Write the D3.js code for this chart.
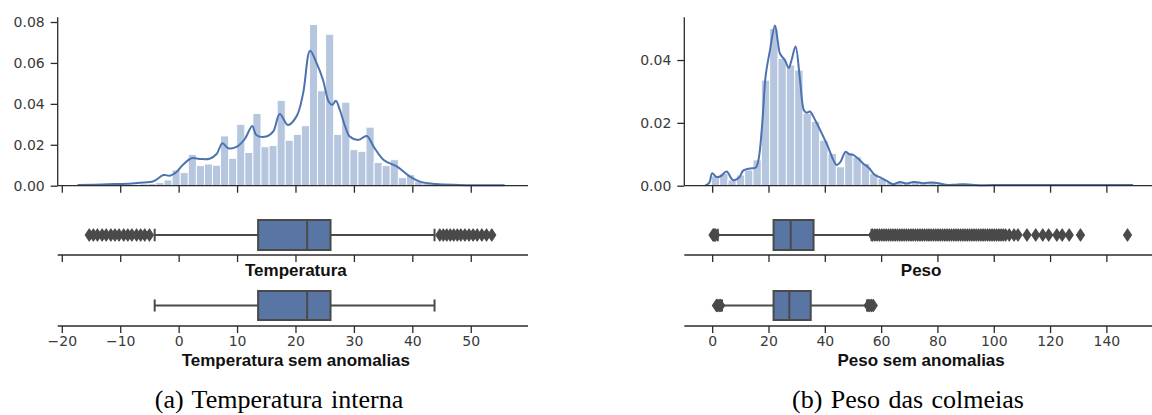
<!DOCTYPE html>
<html>
<head>
<meta charset="utf-8">
<script src="https://cdn.jsdelivr.net/npm/d3@7"></script>
<style>
  html, body { margin: 0; padding: 0; background: #fff; }
  svg { display: block; }
</style>
</head>
<body>
<svg id="chart" width="1152" height="415"></svg>
<script>
// ---- Temperatura interna -------------------------------------------------
const tempBinStart = -16.33;
const tempBinWidth = 1.383;
const tempDensity = [
  0.0004, 0.0004, 0.0005, 0.0005, 0.0006, 0.0006, 0.0007, 0.0009, 0.0010, 0.0015,
  0.0028, 0.0077, 0.0064, 0.0153, 0.0098, 0.0106, 0.0100, 0.0243, 0.0134, 0.0300,
  0.0162, 0.0353, 0.0190, 0.0196, 0.0417, 0.0222, 0.0251, 0.0293, 0.0788, 0.0464,
  0.0740, 0.0251, 0.0408, 0.0176, 0.0168, 0.0286, 0.0113, 0.0098, 0.0127, 0.0039,
  0.0054, 0.0020, 0.0015, 0.0008, 0.0006, 0.0005, 0.0004, 0.0004, 0.0003, 0.0003,
  0.0003
];
const tempKdeX = [
  -17.3, -12, -8, -6.6, -4.3, -2.6, -1.5, -0.4, 0.7, 2.2, 3.6, 5.3, 6.5, 7.5, 8.5,
  9.9, 11.3, 12.6, 13.3, 15.0, 16.2, 17.3, 18.7, 20.2, 21.3, 22.5, 23.6, 24.7, 25.7,
  26.3, 26.9, 27.6, 28.5, 29.3, 30.8, 32.2, 33.4, 35.1, 37.4, 39.6, 41.3, 44, 48, 55.8
];
const tempKdeY = [
  0.0003, 0.0007, 0.0011, 0.0015, 0.0022, 0.0052, 0.0049, 0.0066, 0.0101, 0.0134,
  0.0131, 0.0132, 0.0155, 0.0207, 0.0183, 0.0190, 0.0227, 0.0292, 0.0248, 0.0240,
  0.0265, 0.0350, 0.0297, 0.0340, 0.0450, 0.0660, 0.0600, 0.0518, 0.0410, 0.0395,
  0.0415, 0.0370, 0.0290, 0.0240, 0.0224, 0.0243, 0.0190, 0.0126, 0.0093, 0.0044,
  0.0020, 0.0008, 0.0004, 0.0002
];
// box statistics: [whiskerLow, q1, median, q3, whiskerHigh]
const tempBox = [-4.1, 13.6, 22.0, 26.0, 43.8];
const tempOutliers = [
  -15.3, -14.6, -13.9, -13.1, -12.4, -11.6, -10.9, -10.2, -9.4, -8.7, -8.0, -7.2,
  -6.5, -5.8, -5.0,
  44.7, 45.3, 45.9, 46.5, 47.1, 47.7, 48.3, 49.0, 49.7, 50.4, 51.1, 51.9, 52.7, 53.6
];
const tempCleanBox = [-4.1, 13.6, 22.0, 26.0, 43.8];
const tempCleanOutliers = [];
const tempTicks = [-20, -10, 0, 10, 20, 30, 40, 50];
const tempDensityTicks = [0, 0.02, 0.04, 0.06, 0.08];

// ---- Peso das colmeias ---------------------------------------------------
const pesoBinStart = -0.3;
const pesoBinWidth = 2.96;
const pesoDensity = [
  0.0031, 0.0039, 0.0018, 0.0034, 0.0050, 0.0082, 0.0336, 0.0500, 0.0405, 0.0384,
  0.0368, 0.0230, 0.0204, 0.0145, 0.0103, 0.0060, 0.0105, 0.0092, 0.0071, 0.0039,
  0.0023, 0.0010, 0.0012, 0.0008, 0.0011, 0.0008, 0.0010, 0.0007, 0.0003, 0.0004,
  0.0004, 0.0002, 0.0002, 0.0002, 0.0001, 0.0002, 0.0001, 0.0001, 0.0001, 0.0001,
  0.0001, 0.0001, 0.0001, 0.0001, 0.0001, 0.0001, 0.0000, 0.0000, 0.0000, 0.0001
];
const pesoKdeX = [
  -2.5, -1, 0, 1.5, 3, 5.1, 7.4, 9.5, 11, 13.4, 15.5, 16.5, 17.8, 19, 20.5, 22.3,
  23.3, 24.1, 25.8, 27.2, 28.2, 29.6, 31.2, 32.6, 33.6, 34.7, 36.5, 40.6, 44.2, 45.5,
  47.4, 48.7, 50.1, 52, 53.6, 55.5, 57.8, 60, 62, 64.2, 66.7, 69, 71.6, 75, 78, 80.4,
  83, 86, 89, 93, 100, 149.5
];
const pesoKdeY = [
  0.0000, 0.0010, 0.0040, 0.0028, 0.0030, 0.0045, 0.0018, 0.0025, 0.0048, 0.0055,
  0.0058, 0.0085, 0.0200, 0.0350, 0.0430, 0.0510, 0.0460, 0.0420, 0.0400, 0.0375,
  0.0400, 0.0443, 0.0336, 0.0240, 0.0232, 0.0236, 0.0210, 0.0135, 0.0066, 0.0075,
  0.0108, 0.0100, 0.0098, 0.0085, 0.0071, 0.0058, 0.0034, 0.0025, 0.0015, 0.0005,
  0.0012, 0.0007, 0.0012, 0.0008, 0.0010, 0.0008, 0.0003, 0.0003, 0.0005, 0.0002,
  0.0002, 0.0002
];
const pesoBox = [2.0, 21.8, 27.9, 36.0, 56.6];
const pesoOutliers = [
  0.3, 0.6, 0.9, 1.2,
  57.0, 57.8, 58.6, 59.4, 60.2, 61.0, 61.8, 62.6, 63.4, 64.2, 65.0, 65.8, 66.6, 67.4,
  68.2, 69.0, 69.8, 70.6, 71.4, 72.2, 73.0, 73.8, 74.6, 75.4, 76.2, 77.0, 77.8, 78.6,
  79.4, 80.2, 81.0, 81.8, 82.6, 83.4, 84.2, 85.0, 85.8, 86.6, 87.4, 88.2, 89.0, 89.8,
  90.6, 91.4, 92.2, 93.0, 93.8, 94.6, 95.4, 96.2, 97.0, 97.8, 98.6, 99.4, 100.2, 101.0,
  101.8, 102.6, 103.4, 104.2, 105.5, 107.2, 108.6, 111.8, 114.9, 117.4, 119.5, 122.4,
  124.3, 126.8, 130.8, 147.5
];
const pesoCleanBox = [3.5, 21.8, 27.4, 35.0, 55.0];
const pesoCleanOutliers = [1.5, 2.0, 2.5, 3.0, 55.4, 56.0, 56.6, 57.2];
const pesoTicks = [0, 20, 40, 60, 80, 100, 120, 140];
const pesoDensityTicks = [0, 0.02, 0.04];

// ---- styles --------------------------------------------------------------
const HIST_FILL = "#b7c6df";
const LINE_BLUE = "#4c72b0";
const BOX_FILL = "#5975a4";
const BOX_EDGE = "#4a4a4a";
const AXIS_COLOR = "#2b2b2b";
const TICK_TEXT = "#3a3a3a";

const svg = d3.select("#chart");

function styleAxis(g, showLabels) {
  g.select(".domain").remove();
  g.selectAll(".tick line").attr("stroke", AXIS_COLOR).attr("stroke-width", 1.3);
  g.selectAll(".tick text")
    .attr("fill", TICK_TEXT)
    .style("font-family", "'DejaVu Sans', sans-serif")
    .style("font-size", "14px")
    .style("display", showLabels ? null : "none");
}

function hLine(x0, x1, y) {
  svg.append("line")
    .attr("x1", x0).attr("x2", x1).attr("y1", y).attr("y2", y)
    .attr("stroke", AXIS_COLOR).attr("stroke-width", 1.3);
}

function drawBox(x, stats, outliers, cy, halfH) {
  const g = svg.append("g");
  const [wl, q1, med, q3, wh] = stats;
  g.append("line").attr("x1", x(wl)).attr("x2", x(q1)).attr("y1", cy).attr("y2", cy)
    .attr("stroke", BOX_EDGE).attr("stroke-width", 2);
  g.append("line").attr("x1", x(q3)).attr("x2", x(wh)).attr("y1", cy).attr("y2", cy)
    .attr("stroke", BOX_EDGE).attr("stroke-width", 2);
  [wl, wh].forEach(v => {
    g.append("line").attr("x1", x(v)).attr("x2", x(v))
      .attr("y1", cy - halfH / 2.4).attr("y2", cy + halfH / 2.4)
      .attr("stroke", BOX_EDGE).attr("stroke-width", 2);
  });
  g.append("rect")
    .attr("x", x(q1)).attr("y", cy - halfH)
    .attr("width", x(q3) - x(q1)).attr("height", 2 * halfH)
    .attr("fill", BOX_FILL).attr("stroke", BOX_EDGE).attr("stroke-width", 2);
  g.append("line").attr("x1", x(med)).attr("x2", x(med))
    .attr("y1", cy - halfH).attr("y2", cy + halfH)
    .attr("stroke", BOX_EDGE).attr("stroke-width", 2);
  const diamond = (cx) => `M${cx},${cy - 6}L${cx + 4},${cy}L${cx},${cy + 6}L${cx - 4},${cy}Z`;
  g.selectAll("path.flier").data(outliers).join("path")
    .attr("class", "flier")
    .attr("d", d => diamond(x(d)))
    .attr("fill", BOX_EDGE).attr("stroke", BOX_EDGE).attr("stroke-width", 1.2)
    .attr("stroke-linejoin", "round");
}

function panel(cfg) {
  const x = d3.scaleLinear().domain(cfg.xDomain).range(cfg.xRange);
  const y = d3.scaleLinear().domain(cfg.yDomain).range([185.7, 17.3]);
  const [xl, xr] = cfg.xRange;

  // histogram
  const bins = cfg.density.map((d, i) => ({
    x0: cfg.binStart + i * cfg.binWidth,
    x1: cfg.binStart + (i + 1) * cfg.binWidth,
    d
  }));
  svg.append("g").selectAll("rect").data(bins).join("rect")
    .attr("x", b => x(b.x0))
    .attr("y", b => y(b.d))
    .attr("width", b => x(b.x1) - x(b.x0))
    .attr("height", b => y(0) - y(b.d))
    .attr("fill", HIST_FILL)
    .attr("stroke", "#ffffff").attr("stroke-width", 0.9);

  // density curve
  const pts = cfg.kdeX.map((v, i) => [v, cfg.kdeY[i]]);
  svg.append("path")
    .datum(pts)
    .attr("fill", "none")
    .attr("stroke", LINE_BLUE)
    .attr("stroke-width", 2)
    .attr("stroke-linejoin", "round")
    .attr("d", d3.line().x(p => x(p[0])).y(p => y(p[1])).curve(d3.curveCatmullRom.alpha(0.5)));

  // density axes
  svg.append("line").attr("x1", xl).attr("x2", xl).attr("y1", 17.3).attr("y2", 185.7)
    .attr("stroke", AXIS_COLOR).attr("stroke-width", 1.3);
  hLine(xl, xr, 185.7);
  const ya = svg.append("g").attr("transform", `translate(${xl},0)`)
    .call(d3.axisLeft(y).tickValues(cfg.yTicks).tickFormat(d3.format(".2f")).tickSize(7).tickPadding(6));
  styleAxis(ya, true);
  const xa0 = svg.append("g").attr("transform", "translate(0,185.7)")
    .call(d3.axisBottom(x).tickValues(cfg.xTicks).tickSize(7));
  styleAxis(xa0, false);

  // box plot with anomalies
  drawBox(x, cfg.box, cfg.outliers, 235, 15);
  hLine(xl, xr, 255);
  const xa1 = svg.append("g").attr("transform", "translate(0,255)")
    .call(d3.axisBottom(x).tickValues(cfg.xTicks).tickSize(7));
  styleAxis(xa1, false);
  svg.append("text")
    .attr("x", (xl + xr) / 2 + 3).attr("y", 276)
    .attr("text-anchor", "middle")
    .style("font-family", "'Liberation Sans', Arial, sans-serif")
    .style("font-weight", "bold").style("font-size", "17px")
    .attr("fill", "#111")
    .text(cfg.label);

  // box plot without anomalies
  drawBox(x, cfg.cleanBox, cfg.cleanOutliers, 305.5, 14.5);
  hLine(xl, xr, 326);
  const xa2 = svg.append("g").attr("transform", "translate(0,326)")
    .call(d3.axisBottom(x).tickValues(cfg.xTicks).tickFormat(d => d3.format("d")(d).replace("-", "\u2212")).tickSize(7).tickPadding(3));
  styleAxis(xa2, true);
  svg.append("text")
    .attr("x", (xl + xr) / 2 + 3).attr("y", 366)
    .attr("text-anchor", "middle")
    .style("font-family", "'Liberation Sans', Arial, sans-serif")
    .style("font-weight", "bold").style("font-size", "17px")
    .attr("fill", "#111")
    .text(cfg.cleanLabel);

  // sub-caption
  svg.append("text")
    .attr("x", cfg.captionX).attr("y", 408)
    .attr("text-anchor", "middle")
    .style("font-family", "'Liberation Serif', 'Times New Roman', serif")
    .style("font-size", "26px")
    .style("word-spacing", "2px")
    .attr("fill", "#000")
    .text(cfg.caption);
}

panel({
  xDomain: [-20.7, 59.8], xRange: [57.7, 528],
  yDomain: [0, 0.0823],
  binStart: tempBinStart, binWidth: tempBinWidth, density: tempDensity,
  kdeX: tempKdeX, kdeY: tempKdeY,
  box: tempBox, outliers: tempOutliers,
  cleanBox: tempCleanBox, cleanOutliers: tempCleanOutliers,
  xTicks: tempTicks, yTicks: tempDensityTicks,
  label: "Temperatura", cleanLabel: "Temperatura sem anomalias",
  caption: "(a) Temperatura interna", captionX: 279
});

panel({
  xDomain: [-9.9, 156.2], xRange: [684.3, 1152],
  yDomain: [0, 0.0536],
  binStart: pesoBinStart, binWidth: pesoBinWidth, density: pesoDensity,
  kdeX: pesoKdeX, kdeY: pesoKdeY,
  box: pesoBox, outliers: pesoOutliers,
  cleanBox: pesoCleanBox, cleanOutliers: pesoCleanOutliers,
  xTicks: pesoTicks, yTicks: pesoDensityTicks,
  label: "Peso", cleanLabel: "Peso sem anomalias",
  caption: "(b) Peso das colmeias", captionX: 908
});
</script>
</body>
</html>
